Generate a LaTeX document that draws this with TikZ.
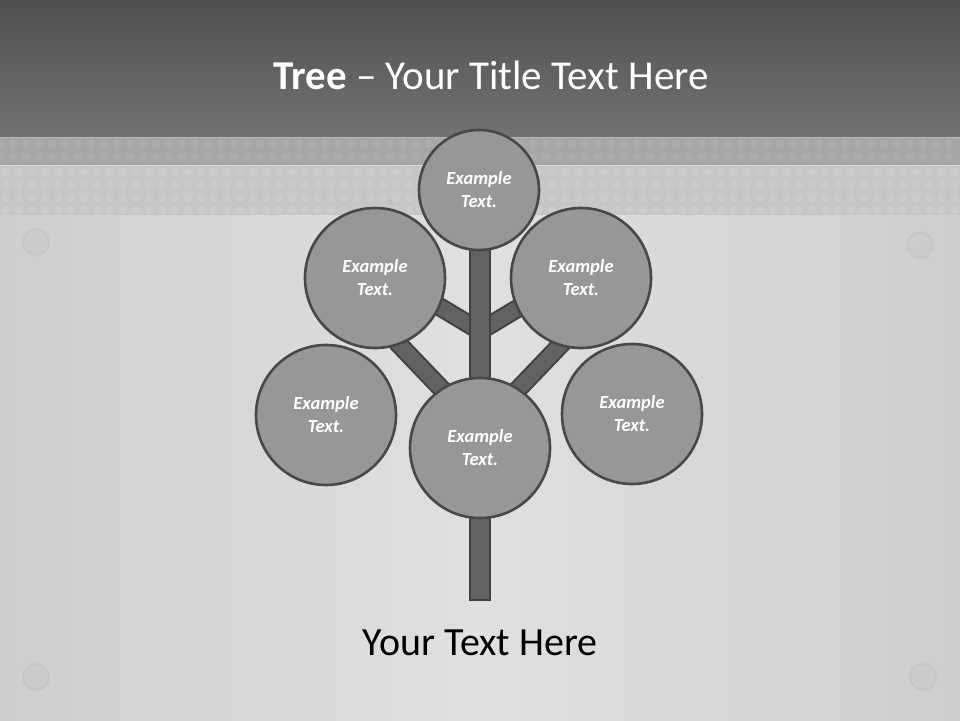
\documentclass[tikz,border=0pt]{standalone}
\usepackage{fontspec}
\setmainfont{Carlito}
\definecolor{hdtop}{RGB}{80,80,80}
\definecolor{hdbot}{RGB}{114,114,114}
\definecolor{bandA}{RGB}{166,166,166}
\definecolor{bandB}{RGB}{198,198,198}
\definecolor{bgedge}{RGB}{206,206,206}
\definecolor{bgmid}{RGB}{224,224,224}
\definecolor{circfill}{RGB}{151,151,151}
\definecolor{circline}{RGB}{72,72,72}
\definecolor{woodfill}{RGB}{98,98,98}
\definecolor{woodline}{RGB}{66,66,66}
\definecolor{rivet}{RGB}{200,200,200}
\tikzset{
  leaf/.style={circle, draw=circline, line width=2.6pt, fill=circfill,
    minimum size=#1, inner sep=0pt, align=center, text=white,
    font=\fontsize{18.5}{23}\selectfont\bfseries\itshape},
  branchout/.style={draw=woodline, line width=19pt},
  branchin/.style={draw=woodfill, line width=15pt},
  trunkout/.style={draw=woodline, line width=22pt},
  trunkin/.style={draw=woodfill, line width=18pt},
  rivetstyle/.style={fill=rivet, draw=bgedge!94!black, line width=2pt}
}
\begin{document}
\begin{tikzpicture}[x=1pt,y=-1pt]
\useasboundingbox (0,0) rectangle (960,720);
% background
\shade[left color=bgedge, right color=bgedge, middle color=bgmid] (0,215) rectangle (960,720);
\shade[top color=hdtop, bottom color=hdbot] (0,0) rectangle (960,137);
\fill[bandA] (0,137) rectangle (960,165);
\fill[bandB] (0,165) rectangle (960,215);
\draw[white, opacity=0.3, line width=1pt] (0,165) -- (960,165);
\draw[white, opacity=0.2, line width=1pt] (0,137.5) -- (960,137.5);
\foreach \y in {144,157} {
  \foreach \x in {0,13,...,960} {
    \fill[white, opacity=0.07] (\x,\y) circle (4.2);
  }
}
\foreach \y in {172,185,198,210} {
  \foreach \x in {6,19,...,960} {
    \fill[white, opacity=0.1] (\x,\y) circle (4.2);
  }
}
% rivets
\foreach \p in {(36,242),(920,245),(36,677),(923,677)} {
  \fill[rivetstyle, opacity=0.6] \p circle (13);
}
% title
\node[text=white, font=\fontsize{41}{48}\selectfont] (title) at (491,75) {\textbf{Tree} – Your Title Text Here};
% anchor coordinates
\coordinate (j1) at (480,331);
\coordinate (j2) at (480,429);
\coordinate (e1) at (415,292);
\coordinate (e2) at (545,292);
\coordinate (e3) at (390,335);
\coordinate (e4) at (570,335);
\coordinate (rootout) at (480,601);
\coordinate (rootin) at (480,599);
\coordinate (topc) at (480,200);
% branches
\draw[branchout] (j1) -- (e1);
\draw[branchout] (j1) -- (e2);
\draw[branchout] (j2) -- (e3);
\draw[branchout] (j2) -- (e4);
\draw[branchin] (j1) -- (e1);
\draw[branchin] (j1) -- (e2);
\draw[branchin] (j2) -- (e3);
\draw[branchin] (j2) -- (e4);
% trunk
\draw[trunkout] (topc) -- (rootout);
\draw[trunkin] (topc) -- (rootin);
% leaves
\node[leaf=120pt] (top) at (479,190) {Example\\Text.};
\node[leaf=140pt] (ul) at (375,278) {Example\\Text.};
\node[leaf=140pt] (ur) at (581,278) {Example\\Text.};
\node[leaf=140pt] (ll) at (326,415) {Example\\Text.};
\node[leaf=140pt] (lr) at (632,414) {Example\\Text.};
\node[leaf=140pt] (mid) at (480,448) {Example\\Text.};
% caption
\node[text=black, font=\fontsize{40}{46}\selectfont] (cap) at (480,643) {Your Text Here};
\end{tikzpicture}
\end{document}
